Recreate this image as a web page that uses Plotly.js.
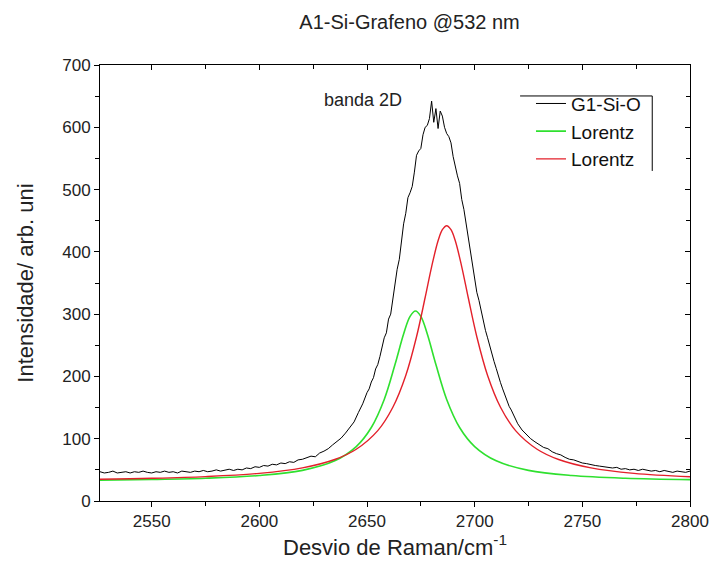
<!DOCTYPE html>
<html>
<head>
<meta charset="utf-8">
<script src="https://cdn.plot.ly/plotly-3.0.1.min.js"></script>
<style>html,body{margin:0;padding:0;background:#fff;}#chart{width:711px;height:572px;}</style>
</head>
<body>
<div id="chart"></div>
<script>
// Measured spectrum G1-Si-O (Raman shift, cm^-1)
var specX = [2526,2528,2530,2532,2534,2536,2538,2540,2542,2544,2546,2548,2550,2552,2554,2556,2558,2560,2562,2564,2566,2568,2570,2572,2574,2576,2578,2580,2582,2584,2586,2588,2590,2592,2594,2596,2598,2600,2602,2604,2606,2608,2610,2612,2614,2616,2618,2620,2622,2624,2626,2628,2630,2632,2634,2636,2638,2640,2642,2644,2646,2648,
  2650,2651,2652,2653,2654,2655,2656,2657,2658,2659,2660,2661,2662,2663,2664,2665,2666,2667,2668,2669,2670,2671,2672,2673,2674,2675,2676,2677,2678,2679,2680,2681,2682,2683,2684,2685,2686,2687,2688,2689,2690,2691,2692,2693,2694,2695,2696,2697,2698,2699,2700,2701,2702,2703,2704,2705,2706,2707,2708,2709,2710,2711,2712,2713,2714,2715,2716,2717,2718,2719,2720,
  2722,2724,2726,2728,2730,2732,2734,2736,2738,2740,2742,2744,2746,2748,2750,2752,2754,2756,2758,2760,2762,2764,2766,2768,2770,2772,2774,2776,2778,2780,2782,2784,2786,2788,2790,2792,2794,2796,2798,2800];
var specY = [47,45,46,48,45,46,47,45,47,46,48,46,45,47,46,48,46,47,45,48,47,46,48,47,49,47,48,50,48,49,51,49,51,50,53,52,55,54,57,56,59,58,61,60,63,62,66,67,69,72,71,77,80,84,90,95,101,109,118,127,142,156,
  174,180,191,198,212,219,232,250,262,270,292,300,325,348,372,388,418,445,462,487,495,505,528,555,562,566,588,600,603,614,642,608,630,598,626,618,600,590,585,575,553,535,522,510,484,468,446,420,402,383,360,335,322,305,290,274,262,248,236,224,213,200,190,180,171,160,152,146,138,130,124,
  114,107,100,95,91,86,84,79,76,74,70,67,66,63,61,60,58,57,56,55,54,53,54,51,52,50,51,49,51,50,48,49,47,49,48,46,48,47,46,48];

// Fitted Lorentz component 1 (green)
var lor1X = [2526,2550,2575,2600,2620,2635,2645,2652,2658,2663,2667,2670,2672.5,2675,2678,2682,2687,2693,2700,2710,2725,2745,2770,2800];
var lor1Y = [33.5,34.5,36.5,40.9,49.2,64.5,87.4,118,163,219,268,296.5,305,296.5,268,219,163,118,87.4,64.5,49.2,40.9,36.5,34.3];

// Fitted Lorentz component 2 (red)
var lor2X = [2526,2550,2575,2600,2620,2635,2645,2655,2662,2668,2673,2677,2680,2683,2685,2687,2689,2691,2694,2697,2701,2706,2712,2719,2729,2739,2754,2774,2800];
var lor2Y = [35,36.5,39.2,44.4,53.2,66.6,83.1,113,150.5,201.5,263.7,326.7,376,417.8,435.7,442,435.7,417.8,376,326.7,263.7,201.5,150.5,113,83.1,66.6,53.2,44.4,39];

var seriesNames = ['G1-Si-O','Lorentz','Lorentz'];
var xTicks = [2550,2600,2650,2700,2750,2800];
var yTicks = [0,100,200,300,400,500,600,700];

var FONT = 'Liberation Sans, Arial, sans-serif';

var traces = [
  {x: specX, y: specY, name: seriesNames[0], mode: 'lines', line: {color: '#000000', width: 1}},
  {x: lor1X, y: lor1Y, name: seriesNames[1], mode: 'lines', line: {color: '#2fe02f', width: 1.6, shape: 'spline'}},
  {x: lor2X, y: lor2Y, name: seriesNames[2], mode: 'lines', line: {color: '#e3202a', width: 1.4, shape: 'spline'}},
  {x: [], y: [], xaxis: 'x2', yaxis: 'y2', showlegend: false, hoverinfo: 'skip'}
];

function axisBase() {
  return {
    showline: true, linecolor: '#000', linewidth: 1, showgrid: false, zeroline: false,
    tickcolor: '#000', ticklen: 5, tickwidth: 1,
    tickfont: {family: FONT, size: 17, color: '#222'}
  };
}

var layout = {
  width: 711, height: 572,
  margin: {l: 100, r: 21, t: 65, b: 71},
  paper_bgcolor: '#fff', plot_bgcolor: '#fff',
  showlegend: true,
  title: {text: 'A1-Si-Grafeno @532 nm', font: {family: FONT, size: 20, color: '#222'},
          x: 0.576, xref: 'container', xanchor: 'center', y: 0.962, yref: 'container', yanchor: 'middle'},
  xaxis: Object.assign(axisBase(), {
    range: [2526, 2800], tickmode: 'array', tickvals: xTicks, ticks: 'outside',
    minor: {dtick: 25, tick0: 2525, ticks: 'outside', ticklen: 4, tickcolor: '#000'},
    title: {text: 'Desvio de Raman/cm<sup>-1</sup>', font: {family: FONT, size: 22, color: '#222'}, standoff: 5}
  }),
  yaxis: Object.assign(axisBase(), {
    range: [0, 700], tickmode: 'array', tickvals: yTicks, ticks: 'outside',
    minor: {dtick: 50, tick0: 0, ticks: 'outside', ticklen: 4, tickcolor: '#000'},
    title: {text: 'Intensidade/ arb. uni', font: {family: FONT, size: 22, color: '#222'}, standoff: 22}
  }),
  xaxis2: Object.assign(axisBase(), {
    overlaying: 'x', side: 'top', anchor: 'y2', range: [2526, 2800], tickmode: 'array', tickvals: xTicks,
    ticks: 'inside', showticklabels: false,
    minor: {dtick: 25, tick0: 2525, ticks: 'inside', ticklen: 4, tickcolor: '#000'}
  }),
  yaxis2: Object.assign(axisBase(), {
    overlaying: 'y', side: 'right', anchor: 'x2', range: [0, 700], tickmode: 'array', tickvals: yTicks,
    ticks: 'inside', showticklabels: false,
    minor: {dtick: 50, tick0: 0, ticks: 'inside', ticklen: 4, tickcolor: '#000'}
  }),
  legend: {x: 0.7305, y: 0.955, xanchor: 'left', yanchor: 'top', bgcolor: 'rgba(0,0,0,0)',
           font: {family: FONT, size: 19, color: '#111'}, tracegroupgap: 0, itemwidth: 30},
  annotations: [
    {text: 'banda 2D', x: 2629, y: 644, xref: 'x', yref: 'y', xanchor: 'left', yanchor: 'middle',
     showarrow: false, font: {family: FONT, size: 18, color: '#222'}}
  ],
  shapes: [
    {type: 'line', xref: 'paper', yref: 'paper', x0: 0.712, x1: 0.936, y0: 0.929, y1: 0.929, line: {color: '#000', width: 1}},
    {type: 'line', xref: 'paper', yref: 'paper', x0: 0.936, x1: 0.936, y0: 0.929, y1: 0.757, line: {color: '#000', width: 1}}
  ]
};

Plotly.newPlot('chart', traces, layout, {displayModeBar: false, staticPlot: true});
</script>
</body>
</html>
